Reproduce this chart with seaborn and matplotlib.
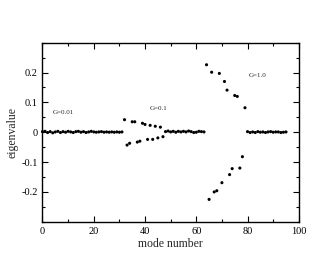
import matplotlib
matplotlib.use("Agg")
import matplotlib.pyplot as plt
import numpy as np
import pandas as pd
import seaborn as sns
from matplotlib.ticker import MultipleLocator

# G = 0.01 : modes 0-31, all near zero
g001_modes = list(range(0, 32))
g001_vals = [0.002, 0.003, -0.001, 0.002, -0.002, 0.001, 0.003, -0.001, 0.002, 0.000,
             0.003, 0.001, -0.001, 0.002, 0.003, 0.000, 0.002, -0.001, 0.001, 0.003,
             0.001, 0.000, 0.001, 0.002, 0.000, 0.001, 0.000, 0.001, 0.000, 0.001,
             0.000, 0.001]

# G = 0.1 : modes 32-63
g01_modes = list(range(32, 64))
g01_vals = [0.042, -0.043, -0.037, 0.035, 0.035, -0.033, -0.030, 0.030, 0.026, -0.024,
            0.023, -0.024, 0.020, -0.019, 0.017, -0.015,
            0.002, 0.004, 0.001, 0.003, 0.000, 0.003, 0.001, 0.003, 0.001, 0.004,
            0.002, -0.001, 0.000, 0.003, 0.002, 0.001]

# G = 1.0 : modes 64-95
g1_modes = list(range(64, 96))
g1_vals = [0.226, -0.225, 0.201, -0.200, -0.196, 0.197, -0.169, 0.170, 0.141, -0.142,
           -0.122, 0.123, 0.120, -0.120, -0.082, 0.082,
           0.002, -0.001, 0.001, -0.001, 0.002, 0.000, 0.001, -0.001, 0.001, 0.002,
           0.000, 0.001, 0.001, -0.001, 0.000, 0.001]

labels = ["G=0.01", "G=0.1", "G=1.0"]
label_pos = [(8, 0.066), (45.5, 0.081), (84, 0.189)]

df = pd.DataFrame({
    "mode": g001_modes + g01_modes + g1_modes,
    "eig": g001_vals + g01_vals + g1_vals,
})

sns.set_style("ticks")
plt.rcParams["font.family"] = ["Liberation Serif", "DejaVu Serif"]
plt.rcParams["axes.unicode_minus"] = False

fig = plt.figure(figsize=(3.32, 2.57), dpi=100)
ax = fig.add_axes([0.128, 0.137, 0.772, 0.697])

sns.scatterplot(data=df, x="mode", y="eig", color="black", s=5,
                edgecolor="none", ax=ax, clip_on=False)

for txt, (x, y) in zip(labels, label_pos):
    ax.text(x, y, txt, fontsize=5, ha="center", va="center")

ax.set_xlim(0, 100)
ax.set_ylim(-0.3, 0.3)
ax.xaxis.set_major_locator(MultipleLocator(20))
ax.xaxis.set_minor_locator(MultipleLocator(10))
ax.set_yticks([-0.2, -0.1, 0, 0.1, 0.2])
ax.set_yticklabels(["-0.2", "-0.1", "0", "0.1", "0.2"])
ax.yaxis.set_minor_locator(MultipleLocator(0.05))
ax.tick_params(which="both", direction="in", top=True, right=True,
               labelsize=7.5, width=0.8, colors="black")
ax.tick_params(which="major", length=4.5)
ax.tick_params(which="minor", length=2.5)
for sp in ax.spines.values():
    sp.set_linewidth(1.0)
    sp.set_color("black")

ax.set_xlabel("mode number", fontsize=8.5, labelpad=2)
ax.set_ylabel("eigenvalue", fontsize=8.5, labelpad=2)

fig.savefig("out.png", dpi=100)
